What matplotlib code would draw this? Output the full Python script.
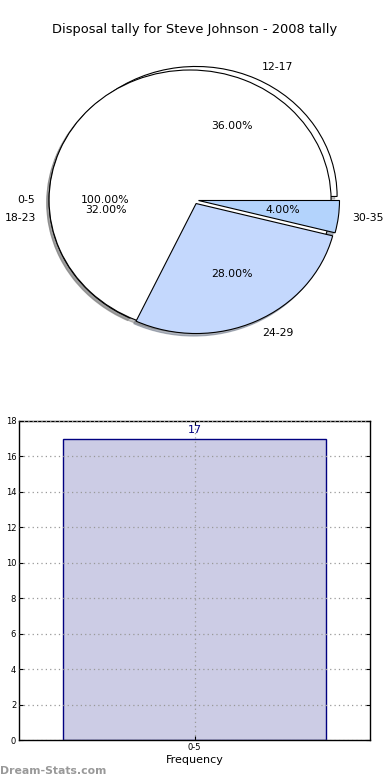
import matplotlib
matplotlib.use('Agg')
import matplotlib.pyplot as plt
import matplotlib.patches as mpatches

# pie data (two overlapping pies, as in the original render)
full_labels = ['0-5']
full_values = [100]
pie_labels = ['12-17', '18-23', '24-29', '30-35']
pie_values = [36, 32, 28, 4]
pie_colors = ['white', 'white', '#c4d8fd', '#b3d3fc']

# bar data
bar_labels = ['0-5']
bar_values = [17]

fig = plt.figure(figsize=(3.9, 7.8), dpi=100)

fig.text(0.5, 1 - 30 / 780, 'Disposal tally for Steve Johnson - 2008 tally',
         ha='center', va='center', fontsize=9.4)

# ---- pie ----
ax = fig.add_axes([11 / 390, (780 - 369) / 780, 366.6 / 390, 338 / 780])
wedges, texts, autotexts = ax.pie(pie_values, labels=pie_labels, colors=pie_colors,
                                  explode=[0.03] * 4, autopct='%1.2f%%',
                                  startangle=0, shadow=False,
                                  wedgeprops={'linewidth': 0.8, 'edgecolor': 'black'},
                                  textprops={'fontsize': 7.8})
zords = [1, 1, 3, 3]
for w, z in zip(wedges, zords):
    w.set_zorder(z)
    sh = mpatches.Shadow(w, -0.012, -0.014, shade=0.5, label='_nolegend_')
    sh.set_zorder(0.5)
    ax.add_patch(sh)

fw, ft, fa = ax.pie(full_values, labels=full_labels, colors=['white'], explode=[0.03],
                    autopct='%1.2f%%', startangle=0, shadow=False,
                    wedgeprops={'linewidth': 0.8, 'edgecolor': 'black', 'zorder': 2},
                    textprops={'fontsize': 7.8})
for w in fw:
    sh = mpatches.Shadow(w, -0.012, -0.014, shade=0.5, label='_nolegend_')
    sh.set_zorder(0.5)
    ax.add_patch(sh)
ax.set_aspect('auto')
ax.set_xlim(-1.3, 1.3)
ax.set_ylim(-1.3, 1.3)
ax.axis('off')

# ---- bar ----
ax2 = fig.add_axes([19 / 390, 40 / 780, 351 / 390, 319 / 780])
x = list(range(len(bar_values)))
ax2.bar(x, bar_values, width=0.75, facecolor=(0, 0, 0.5, 0.2),
        edgecolor='navy', linewidth=1)
for xi, v in zip(x, bar_values):
    ax2.text(xi, v + 0.22, str(v), ha='center', va='bottom', color='navy', fontsize=8)
ax2.set_xlim(-0.5, 0.5)
ax2.set_ylim(0, 18)
ax2.set_yticks(range(0, 19, 2))
ax2.set_xticks(x)
ax2.set_xticklabels(bar_labels)
ax2.tick_params(labelsize=6, direction='in', top=True, right=True, length=3, pad=2)
ax2.grid(True, linestyle=(0, (1, 2.5)), color='#999999', linewidth=0.9)
ax2.set_axisbelow(False)
ax2.set_xlabel('Frequency', fontsize=8, labelpad=2)
for s in ax2.spines.values():
    s.set_linewidth(1)

fig.text(-6 / 390, (780 - 580) / 780, 'Disposal Tally', rotation=90,
         ha='center', va='center', fontsize=8)

fig.text(0, 1 - 771 / 780, 'Dream-Stats.com', ha='left', va='center',
         fontsize=7.8, color='#999999', fontweight='bold')

fig.savefig('out.png', dpi=100)
